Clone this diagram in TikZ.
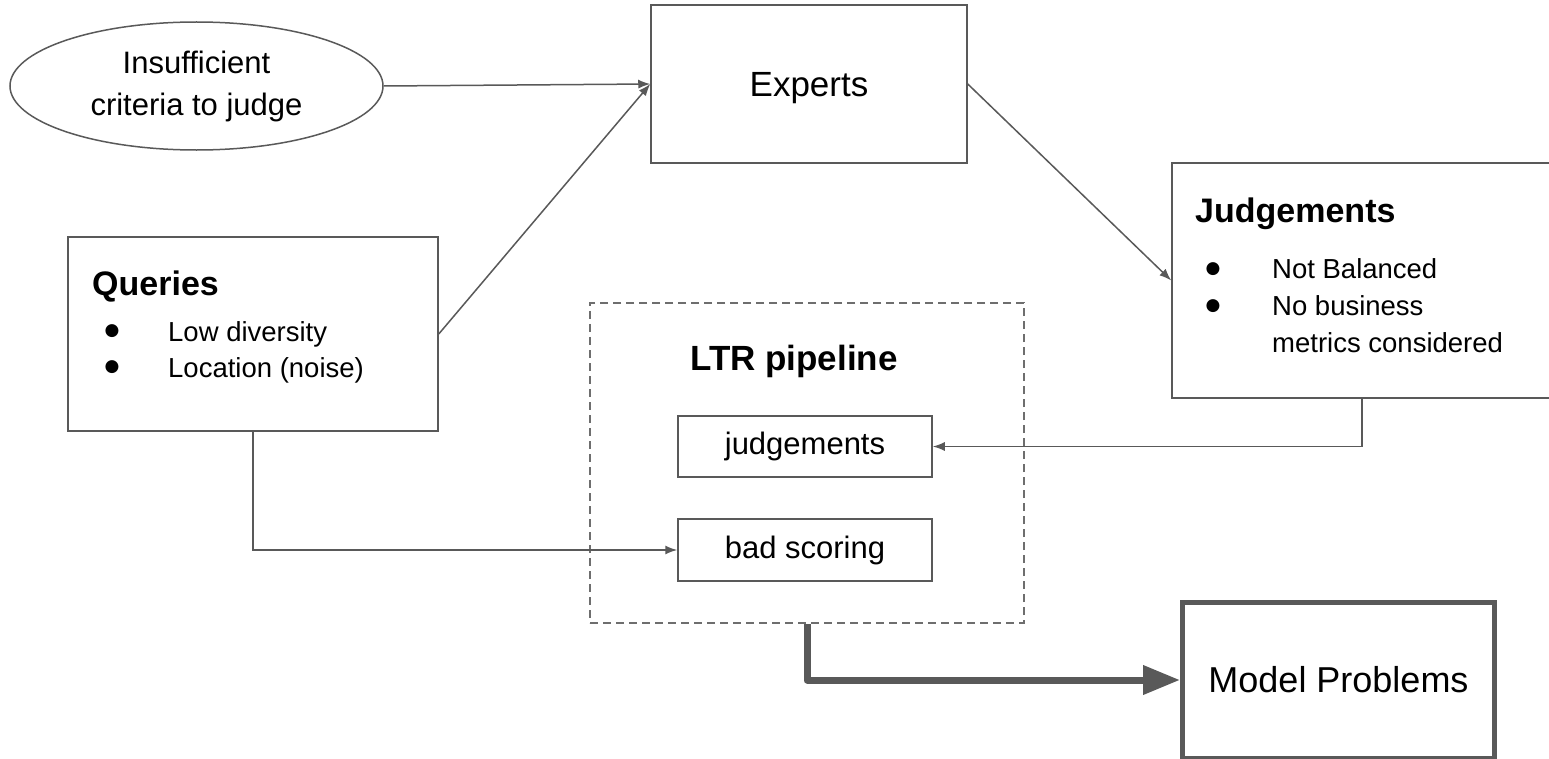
\documentclass[tikz,border=0pt]{standalone}
\usepackage{fontspec}
\setmainfont{Liberation Sans}
\newfontfamily\symfont{DejaVu Sans}
\usetikzlibrary{arrows.meta,shapes.geometric,calc}
\definecolor{ln}{RGB}{89,89,89}
\definecolor{dl}{RGB}{110,110,110}
\newcommand{\myfs}[2]{\fontsize{#1bp}{#2bp}\selectfont}
\tikzset{
  box/.style={draw=ln,line width=1.5bp,rectangle,inner sep=0pt,fill=white},
  con/.style={draw=ln,line width=1.5bp,-{Latex[length=12bp,width=9bp]}},
  bigcon/.style={draw=ln,line width=7bp,line join=round,-{Triangle[length=37bp,width=28bp]}},
  txt/.style={inner sep=0pt,text=black},
  bul/.style={inner sep=0pt,text=black,font=\symfont\myfs{17}{17}},
  itemtxt/.style={inner sep=0pt,text=black,anchor=base west,font=\myfs{27.5}{33}},
  head/.style={inner sep=0pt,text=black,anchor=base west,font=\myfs{34}{40}\bfseries},
}
\begin{document}
\begin{tikzpicture}[x=1bp,y=-1bp]
\useasboundingbox (0,0) rectangle (1549,759);
\fill[white] (0,0) rectangle (1549,759);
\clip (0,0) rectangle (1549,759);

% nodes
\node[ellipse,draw=ln,line width=1.5bp,minimum width=373bp,minimum height=128bp,inner sep=0pt,align=center,font=\myfs{31}{42}] (crit) at (196.5,86) {Insufficient\\criteria to judge};
\node[box,minimum width=316bp,minimum height=158bp,text depth=0bp,font=\myfs{35}{42}] (experts) at (809,84) {Experts};
\node[box,minimum width=370bp,minimum height=194bp] (queries) at (253,334) {};
\node[box,minimum width=380bp,minimum height=235bp] (judg) at (1362,280.5) {};
\node[draw=dl,dash pattern=on 8bp off 5bp,line width=1.5bp,minimum width=434bp,minimum height=320bp,inner sep=0pt] (ltr) at (807,463) {};
\node[box,minimum width=254bp,minimum height=61bp,font=\myfs{31}{37}] (jbox) at (805,446.5) {judgements};
\node[box,minimum width=254bp,minimum height=62bp,font=\myfs{31}{37}] (bbox) at (805,550) {bad scoring};
\node[draw=ln,line width=5bp,minimum width=312bp,minimum height=156bp,inner sep=0pt,fill=white,font=\myfs{36}{42}] (model) at (1338.5,680) {Model Problems};

% texts inside boxes
\node[head] (qhead) at (92,295) {Queries};
\node[bul] (qb1) at (112,331) {●};
\node[itemtxt] (qi1) at (168,341) {Low diversity};
\node[bul] (qb2) at (112,367) {●};
\node[itemtxt] (qi2) at (168,377) {Location (noise)};

\node[head] (jhead) at (1195,222) {Judgements};
\node[bul] (jb1) at (1213,269) {●};
\node[itemtxt] (ji1) at (1272,278) {Not Balanced};
\node[bul] (jb2) at (1213,306) {●};
\node[itemtxt] (ji2) at (1272,315) {No business};
\node[itemtxt] (ji3) at (1272,352) {metrics considered};

\node[txt,anchor=base,font=\myfs{35}{40}\bfseries] (ltrhead) at (794,370) {LTR pipeline};

% connectors
\draw[con] (crit.east) -- (experts.west);
\draw[con] (queries.east) -- (experts.west);
\draw[con] (experts.east) -- (judg.west);
\draw[con] (judg.south) |- (jbox.east);
\draw[con] (queries.south) |- (bbox.west);
\draw[bigcon] (ltr.south) |- (model.west);
\end{tikzpicture}
\end{document}
